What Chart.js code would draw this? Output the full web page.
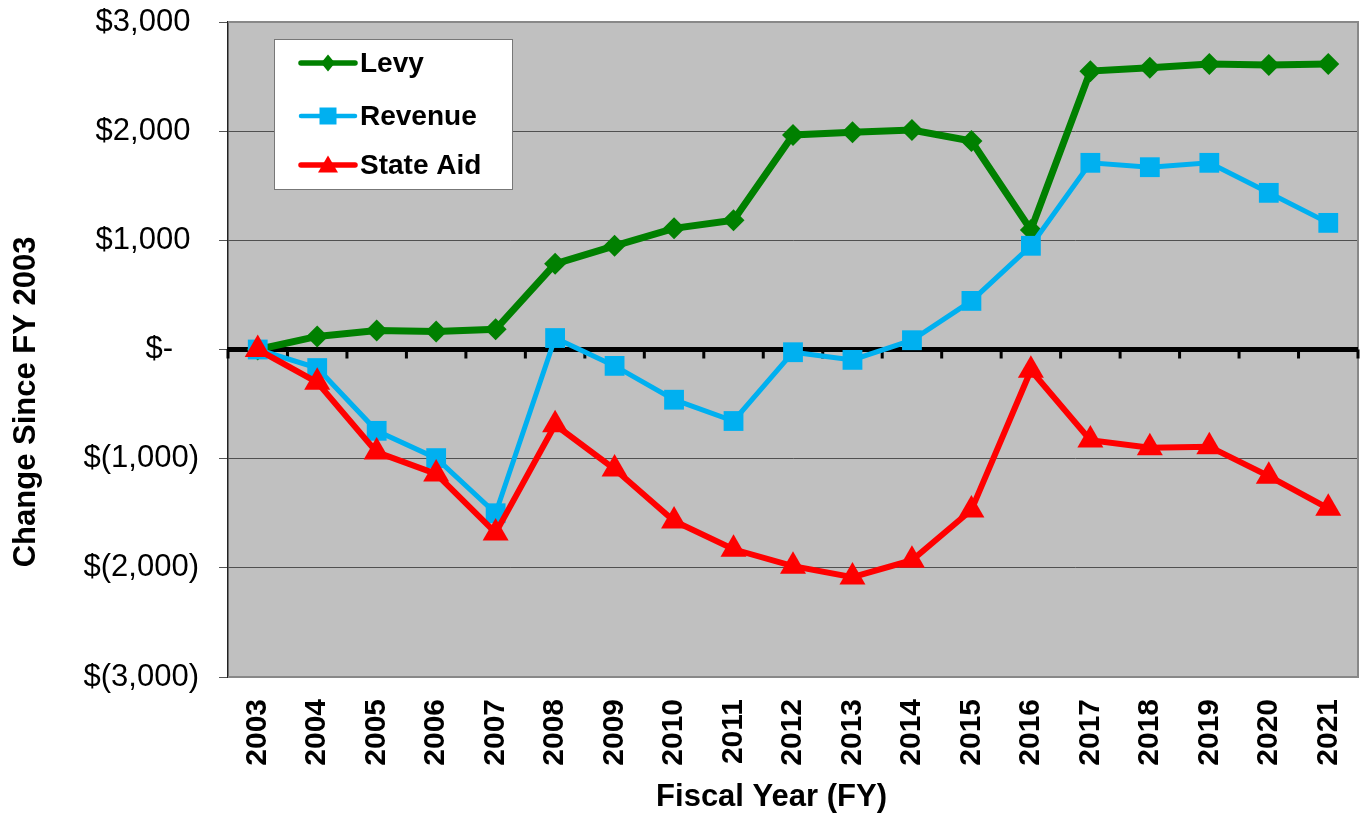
<!DOCTYPE html>
<html>
<head>
<meta charset="utf-8">
<script src="https://cdn.jsdelivr.net/npm/chart.js@4.4.1/dist/chart.umd.min.js"></script>
<style>
  html, body { margin: 0; padding: 0; background: #fff; }
  #wrap { width: 1363px; height: 815px; }
</style>
</head>
<body>
<div id="wrap"><canvas id="levyChart" width="1363" height="815"></canvas></div>
<script>
const years = ['2003', '2004', '2005', '2006', '2007', '2008', '2009', '2010', '2011', '2012',
  '2013', '2014', '2015', '2016', '2017', '2018', '2019', '2020', '2021'];
const levy = [0, 120, 175, 165, 185, 785, 950, 1110, 1185, 1965,
  1990, 2010, 1910, 1095, 2550, 2580, 2615, 2605, 2615];
const revenue = [0, -170, -745, -995, -1500, 105, -150, -460, -655, -25,
  -95, 85, 445, 950, 1710, 1670, 1710, 1435, 1160];
const stateAid = [0, -300, -940, -1140, -1680, -690, -1095, -1570, -1830, -1985,
  -2085, -1930, -1470, -190, -830, -900, -890, -1160, -1455];
const seriesNames = ['Levy', 'Revenue', 'State Aid'];
const xTitle = 'Fiscal Year (FY)';
const yTitle = 'Change Since FY 2003';

const FONT = "'Liberation Sans', Arial, Helvetica, sans-serif";

// formato contábil do Excel: $3,000 / $- / $(1,000)
function money(v) {
  if (v === 0) return '$-   ';
  const s = Math.abs(v).toLocaleString('en-US');
  return v < 0 ? '$(' + s + ')' : '$' + s + ' ';
}

// fundo cinza da área do gráfico
const plotBackground = {
  id: 'plotBackground',
  beforeDraw(chart) {
    const { ctx, chartArea: a } = chart;
    ctx.save();
    ctx.fillStyle = '#C0C0C0';
    ctx.fillRect(a.left, a.top, a.width, a.height);
    ctx.restore();
  }
};

// eixo horizontal grosso no zero, com marcas entre as categorias, e moldura
const zeroAxis = {
  id: 'zeroAxis',
  beforeDatasetsDraw(chart) {
    const { ctx, chartArea: a, scales } = chart;
    const y0 = scales.y.getPixelForValue(0);
    ctx.save();
    ctx.strokeStyle = '#888';
    ctx.lineWidth = 2;
    ctx.beginPath();
    ctx.moveTo(a.left, a.top);
    ctx.lineTo(a.right, a.top);
    ctx.lineTo(a.right, a.bottom);
    ctx.lineTo(a.left, a.bottom);
    ctx.stroke();

    ctx.strokeStyle = '#000';
    ctx.lineWidth = 5;
    ctx.beginPath();
    ctx.moveTo(a.left - 1, y0);
    ctx.lineTo(a.right, y0);
    ctx.stroke();

    ctx.lineWidth = 3;
    ctx.beginPath();
    for (let i = 0; i <= years.length; i++) {
      const x = scales.x.getPixelForValue(i - 0.5);
      ctx.moveTo(x, y0);
      ctx.lineTo(x, y0 + 9);
    }
    ctx.stroke();
    ctx.restore();
  }
};

// títulos dos eixos
const axisTitles = {
  id: 'axisTitles',
  afterDraw(chart) {
    const { ctx, chartArea: a } = chart;
    ctx.save();
    ctx.fillStyle = '#000';
    ctx.font = 'bold 31px ' + FONT;
    ctx.textAlign = 'center';
    ctx.textBaseline = 'middle';
    ctx.fillText(xTitle, a.left + a.width * 0.481, chart.height - 18);
    ctx.translate(26, a.top + a.height * 0.58);
    ctx.rotate(-Math.PI / 2);
    ctx.fillText(yTitle, 0, 0);
    ctx.restore();
  }
};

function drawMarker(ctx, style, x, y, r) {
  ctx.beginPath();
  if (style === 'rectRot') {
    ctx.moveTo(x, y - r * 1.2); ctx.lineTo(x + r, y); ctx.lineTo(x, y + r * 1.2); ctx.lineTo(x - r, y);
  } else if (style === 'rect') {
    ctx.rect(x - r, y - r, 2 * r, 2 * r);
  } else {
    ctx.moveTo(x, y - r * 0.95); ctx.lineTo(x + r, y + r * 0.75); ctx.lineTo(x - r, y + r * 0.75);
  }
  ctx.closePath();
  ctx.fill();
}

// legenda dentro da área do gráfico, como no Excel
const boxLegend = {
  id: 'boxLegend',
  afterDatasetsDraw(chart) {
    const { ctx, chartArea: a } = chart;
    const bx = a.left + 46, by = a.top + 17, bw = 238, bh = 150;
    ctx.save();
    ctx.fillStyle = '#fff';
    ctx.fillRect(bx, by, bw, bh);
    ctx.strokeStyle = '#777';
    ctx.lineWidth = 1;
    ctx.strokeRect(bx + 0.5, by + 0.5, bw, bh);

    const rows = [24, 77, 126];
    const markerSize = [7, 8.5, 10];
    chart.data.datasets.forEach((ds, i) => {
      const y = by + rows[i];
      ctx.strokeStyle = ds.borderColor;
      ctx.fillStyle = ds.borderColor;
      ctx.lineWidth = i === 1 ? 4.5 : 5.5;
      ctx.lineCap = 'round';
      ctx.beginPath();
      ctx.moveTo(bx + 27, y);
      ctx.lineTo(bx + 81, y);
      ctx.stroke();
      drawMarker(ctx, ds.pointStyle, bx + 54, y, markerSize[i]);
      ctx.fillStyle = '#000';
      ctx.font = 'bold 28px ' + FONT;
      ctx.textAlign = 'left';
      ctx.textBaseline = 'middle';
      ctx.fillText(ds.label, bx + 86, y + 1);
    });
    ctx.restore();
  }
};

const ctx = document.getElementById('levyChart').getContext('2d');

new Chart(ctx, {
  type: 'line',
  data: {
    labels: years,
    datasets: [
      {
        label: seriesNames[0],
        data: levy,
        borderColor: '#008000',
        backgroundColor: '#008000',
        borderWidth: 7,
        pointStyle: 'rectRot',
        pointRadius: 11,
        pointBorderWidth: 0,
        order: 3
      },
      {
        label: seriesNames[1],
        data: revenue,
        borderColor: '#00B0F0',
        backgroundColor: '#00B0F0',
        borderWidth: 5,
        pointStyle: 'rect',
        pointRadius: 14,
        pointBorderWidth: 0,
        order: 2
      },
      {
        label: seriesNames[2],
        data: stateAid,
        borderColor: '#FF0000',
        backgroundColor: '#FF0000',
        borderWidth: 6,
        pointStyle: 'triangle',
        pointRadius: 15,
        pointBorderWidth: 0,
        order: 1
      }
    ]
  },
  options: {
    responsive: false,
    animation: false,
    layout: { autoPadding: false, padding: { top: 22, right: 5, left: 0, bottom: 0 } },
    elements: { line: { tension: 0 } },
    plugins: {
      legend: { display: false },
      tooltip: { enabled: false }
    },
    scales: {
      x: {
        offset: true,
        afterFit(scale) {
          scale.height = 138;
          scale.paddingLeft = 0;
          scale.paddingRight = 0;
        },
        grid: { display: false, drawTicks: false },
        border: { display: false },
        ticks: {
          autoSkip: false,
          minRotation: 90,
          maxRotation: 90,
          padding: 22,
          color: '#000',
          font: { family: FONT, size: 30, weight: 'bold' }
        }
      },
      y: {
        min: -3000,
        max: 3000,
        afterFit(scale) {
          scale.width = 228;
          scale.paddingTop = 0;
          scale.paddingBottom = 0;
        },
        grid: {
          color: c => c.tick.value === 0 ? 'rgba(0,0,0,0)'
            : (Math.abs(c.tick.value) === 3000 ? '#888' : '#505050'),
          lineWidth: 1,
          tickLength: 9,
          tickColor: '#555',
          tickWidth: 1
        },
        border: { display: true, color: '#222', width: 1.5 },
        ticks: {
          stepSize: 1000,
          padding: 20,
          color: '#000',
          font: { family: FONT, size: 31 },
          callback: v => money(v)
        }
      }
    }
  },
  plugins: [plotBackground, zeroAxis, boxLegend, axisTitles]
});
</script>
</body>
</html>
